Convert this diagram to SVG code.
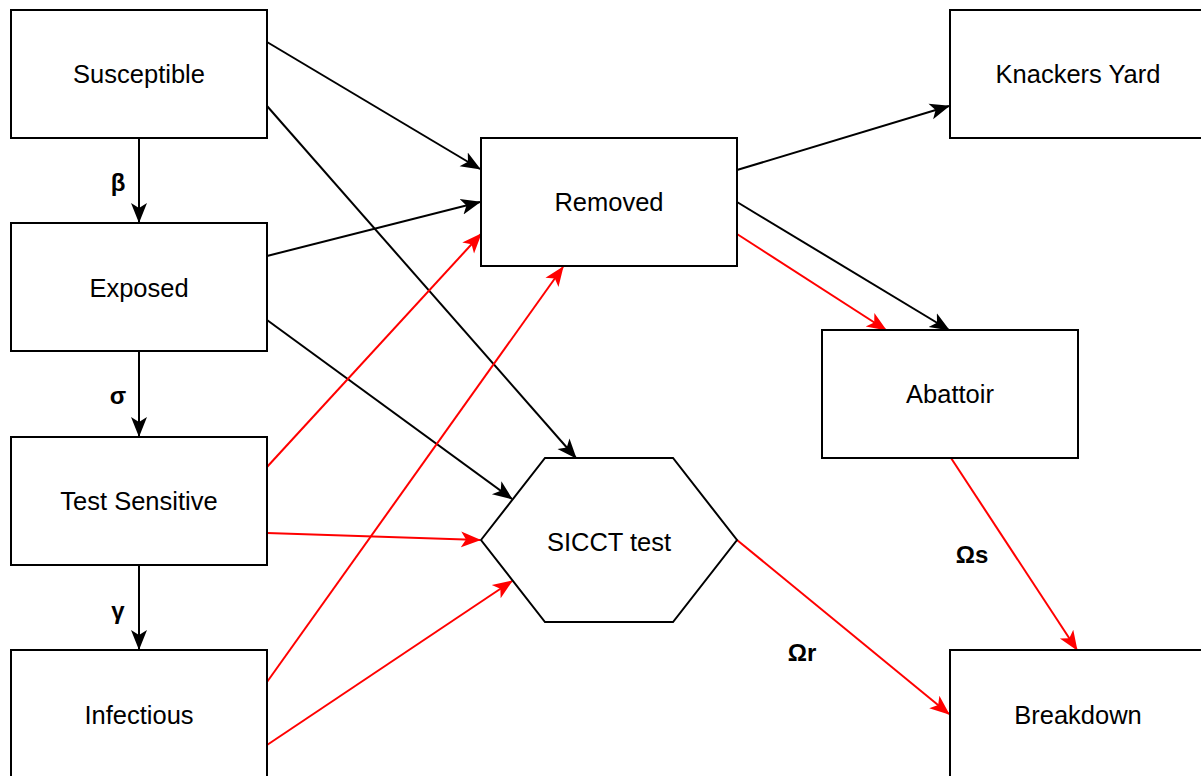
<svg xmlns="http://www.w3.org/2000/svg" width="1201" height="776" viewBox="0 0 1201 776">
<style>
.n{fill:#fff;stroke:#000;stroke-width:2}
.t{font-family:"Liberation Sans",Arial,sans-serif;font-size:25.5px;fill:#000;text-anchor:middle;dominant-baseline:central}
.l{font-family:"Liberation Sans",Arial,sans-serif;font-size:24px;font-weight:bold;fill:#000;text-anchor:middle;dominant-baseline:central}
.k{fill:none;stroke:#000;stroke-width:2}
.r{fill:none;stroke:#f00;stroke-width:2}
</style>
<defs>
<marker id="ak" viewBox="0 0 20 20" refX="19" refY="10" markerWidth="20" markerHeight="20" markerUnits="userSpaceOnUse" orient="auto">
<path d="M0,2 L20,10 L0,18 L5,10 Z" fill="#000"/>
</marker>
<marker id="ar" viewBox="0 0 20 20" refX="19" refY="10" markerWidth="20" markerHeight="20" markerUnits="userSpaceOnUse" orient="auto">
<path d="M0,2 L20,10 L0,18 L5,10 Z" fill="#f00"/>
</marker>
</defs>
<rect width="1201" height="776" fill="#fff"/>
<g id="connectors">
<path class="k" d="M139,138 L139,222" marker-end="url(#ak)"/>
<path class="k" d="M139,351 L139,436" marker-end="url(#ak)"/>
<path class="k" d="M139,565 L139,649" marker-end="url(#ak)"/>
<path class="k" d="M267,42 L480,169" marker-end="url(#ak)"/>
<path class="k" d="M267,106 L576,458" marker-end="url(#ak)"/>
<path class="k" d="M267,256 L480,202" marker-end="url(#ak)"/>
<path class="k" d="M267,320 L512,499" marker-end="url(#ak)"/>
<path class="r" d="M267,467 L481,234" marker-end="url(#ar)"/>
<path class="r" d="M267,533 L480,540" marker-end="url(#ar)"/>
<path class="r" d="M267,682 L563,267" marker-end="url(#ar)"/>
<path class="r" d="M267,745 L512,581" marker-end="url(#ar)"/>
<path class="k" d="M737,170 L949,106" marker-end="url(#ak)"/>
<path class="k" d="M737,202 L949,330" marker-end="url(#ak)"/>
<path class="r" d="M737,234 L886,330" marker-end="url(#ar)"/>
<path class="r" d="M737,540 L949,714" marker-end="url(#ar)"/>
<path class="r" d="M951,458 L1077,650" marker-end="url(#ar)"/>
<text class="l" x="118" y="182">β</text>
<text class="l" x="118" y="395">σ</text>
<text class="l" x="118" y="610">γ</text>
<text class="l" x="802" y="652">Ωr</text>
<text class="l" x="972" y="554">Ωs</text>
</g>
<g id="susceptible"><rect class="n" x="11" y="10" width="256" height="128"/><text class="t" x="139" y="74">Susceptible</text></g>
<g id="exposed"><rect class="n" x="11" y="223" width="256" height="128"/><text class="t" x="139" y="288">Exposed</text></g>
<g id="test-sensitive"><rect class="n" x="11" y="437" width="256" height="128"/><text class="t" x="139" y="501">Test Sensitive</text></g>
<g id="infectious"><rect class="n" x="11" y="650" width="256" height="128"/><text class="t" x="139" y="715">Infectious</text></g>
<g id="removed"><rect class="n" x="481" y="138" width="256" height="128"/><text class="t" x="609" y="202">Removed</text></g>
<g id="sicct"><polygon class="n" points="481,540 545,458 673,458 737,540 673,622 545,622"/><text class="t" x="609" y="542">SICCT test</text></g>
<g id="knackers"><rect class="n" x="950" y="10" width="256" height="128"/><text class="t" x="1078" y="74">Knackers Yard</text></g>
<g id="abattoir"><rect class="n" x="822" y="330" width="256" height="128"/><text class="t" x="950" y="394">Abattoir</text></g>
<g id="breakdown"><rect class="n" x="950" y="650" width="256" height="128"/><text class="t" x="1078" y="715">Breakdown</text></g>
</svg>
